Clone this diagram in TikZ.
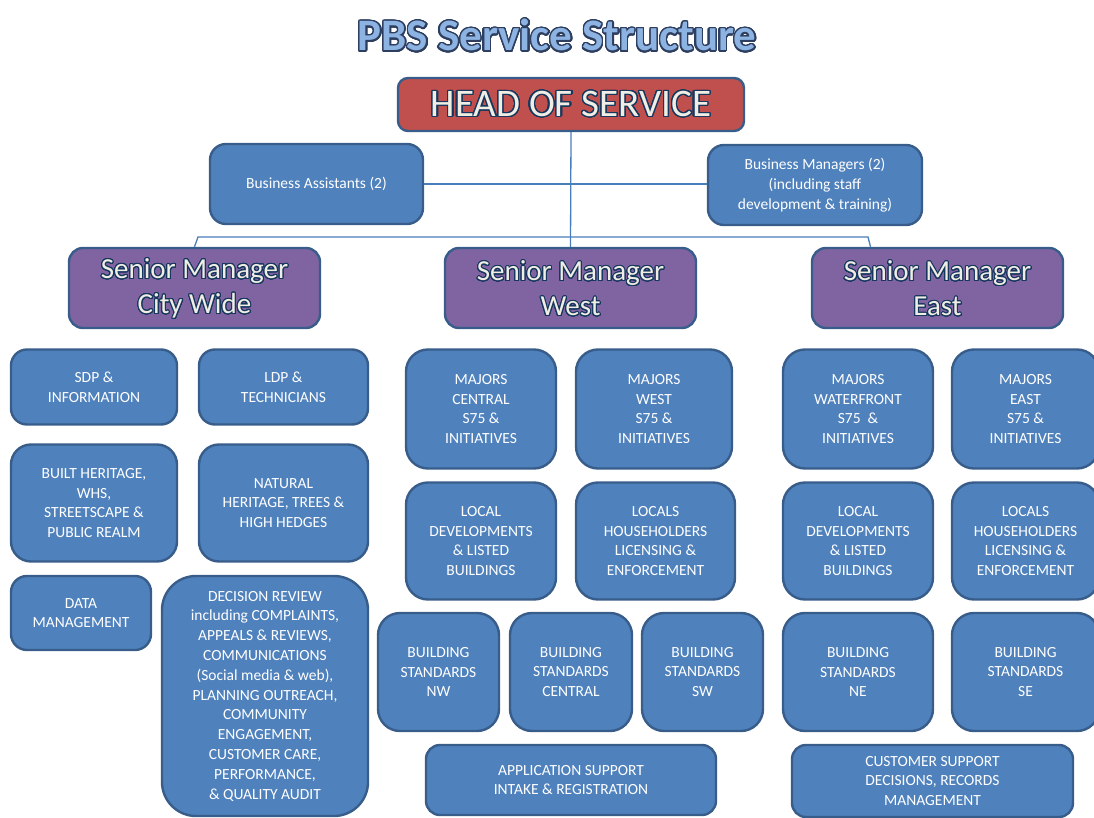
\documentclass[tikz,border=0pt]{standalone}
\usepackage{fontspec}
\setmainfont{Carlito}
\usepackage{contour}
\contournumber{32}
\definecolor{boxblue}{RGB}{79,129,189}
\definecolor{boxedge}{RGB}{56,93,138}
\definecolor{headred}{RGB}{192,80,77}
\definecolor{mgrpurple}{RGB}{128,100,162}
\definecolor{linkblue}{RGB}{74,126,187}
\definecolor{titlefill}{RGB}{141,179,226}
\definecolor{titleedge}{RGB}{45,62,95}
\definecolor{headtext}{RGB}{240,238,228}
\definecolor{headedge}{RGB}{23,55,94}

\begin{document}
\begin{tikzpicture}[x=1pt, y=-1pt,
  wh/.style 2 args={minimum width=#1, minimum height=#2},
  unit/.style={draw=boxedge, line width=2.4pt, fill=boxblue, rounded corners=16pt,
    text=white, align=center, inner sep=2pt, font=\fontsize{15.5}{19.8}\selectfont},
  manager/.style={draw=boxedge, line width=2.4pt, fill=mgrpurple, rounded corners=14pt,
    text=headtext, align=center, font=\fontsize{29}{35}\selectfont},
  link/.style={draw=linkblue, line width=1.3pt}]
\useasboundingbox (0,0) rectangle (1094,818);

% Title
\contourlength{1.4pt}
\node[text=titlefill, inner sep=0pt, font=\bfseries\fontsize{45}{50}\selectfont] (title) at (557,36)
  {\contour{titleedge}{PBS Service Structure}};

% Head
\node[draw=boxedge, line width=2.4pt, fill=headred, rounded corners=10pt, wh={346}{53},
  text=headtext, font=\fontsize{39}{44}\selectfont] (head) at (571,104.5)
  {\contourlength{1.2pt}\contour{headedge}{HEAD OF SERVICE}};

% Support
\node[unit, wh={213}{80}] (bassist) at (316.5,184) {Business Assistants (2)};
\node[unit, wh={214}{80}] (bmanager) at (815,185)
  {Business Managers (2)\\(including staff\\development \& training)};

% Senior managers
\contourlength{1pt}
\node[manager, wh={251}{80}] (smcity) at (194.5,288)
  {\contour{headedge}{\rule{0pt}{22pt}Senior Manager}\\\contour{headedge}{City Wide}};
\node[manager, wh={251}{80}] (smwest) at (570.5,288)
  {\contour{headedge}{\rule{0pt}{22pt}Senior Manager}\\\contour{headedge}{West}};
\node[manager, wh={251}{80}] (smeast) at (937.5,288)
  {\contour{headedge}{\rule{0pt}{22pt}Senior Manager}\\\contour{headedge}{East}};

% City wide teams
\node[unit, wh={166}{75}] (sdp) at (94,387) {SDP \&\\INFORMATION};
\node[unit, wh={169}{75}] (ldp) at (283.5,387) {LDP \&\\TECHNICIANS};
\node[unit, wh={166}{117}, rounded corners=20pt] (built) at (94,503)
  {BUILT HERITAGE,\\WHS,\\STREETSCAPE \&\\PUBLIC REALM};
\node[unit, wh={169}{117}, rounded corners=20pt] (natural) at (283.5,503)
  {NATURAL\\HERITAGE, TREES \&\\HIGH HEDGES};
\node[unit, wh={140}{74}] (datamgmt) at (81,613) {DATA\\MANAGEMENT};
\node[unit, wh={206}{240}, rounded corners=34pt] (review) at (265,696)
  {DECISION REVIEW\\including COMPLAINTS,\\APPEALS \& REVIEWS,\\COMMUNICATIONS\\(Social media \& web),\\PLANNING OUTREACH,\\COMMUNITY\\ENGAGEMENT,\\CUSTOMER CARE,\\PERFORMANCE,\\\& QUALITY AUDIT};

% West teams
\node[unit, wh={150}{119}, rounded corners=22pt] (majcentral) at (481,409)
  {MAJORS\\CENTRAL\\S75 \&\\INITIATIVES};
\node[unit, wh={156}{119}, rounded corners=22pt] (majwest) at (654,409)
  {MAJORS\\WEST\\S75 \&\\INITIATIVES};
\node[unit, wh={150}{117}, rounded corners=22pt] (locwest) at (481,541)
  {LOCAL\\DEVELOPMENTS\\\& LISTED\\BUILDINGS};
\node[unit, wh={159}{117}, rounded corners=22pt] (hhwest) at (655.5,541)
  {LOCALS\\HOUSEHOLDERS\\LICENSING \&\\ENFORCEMENT};
\node[unit, wh={121}{118}, rounded corners=22pt] (bsnw) at (438.5,672)
  {BUILDING\\STANDARDS\\NW};
\node[unit, wh={122}{118}, rounded corners=22pt] (bscentral) at (571,672)
  {BUILDING\\STANDARDS\\CENTRAL};
\node[unit, wh={121}{118}, rounded corners=22pt] (bssw) at (702.5,672)
  {BUILDING\\STANDARDS\\SW};
\node[unit, wh={290}{70}, rounded corners=14pt] (appsupport) at (571,780)
  {APPLICATION SUPPORT\\INTAKE \& REGISTRATION};

% East teams
\node[unit, wh={150}{119}, rounded corners=22pt] (majfront) at (858,409)
  {MAJORS\\WATERFRONT\\S75~ \&\\INITIATIVES};
\node[unit, wh={147}{119}, rounded corners=22pt] (majeast) at (1025.5,409)
  {MAJORS\\EAST\\S75 \&\\INITIATIVES};
\node[unit, wh={150}{117}, rounded corners=22pt] (loceast) at (858,541)
  {LOCAL\\DEVELOPMENTS\\\& LISTED\\BUILDINGS};
\node[unit, wh={147}{117}, rounded corners=22pt] (hheast) at (1025.5,541)
  {LOCALS\\HOUSEHOLDERS\\LICENSING \&\\ENFORCEMENT};
\node[unit, wh={150}{118}, rounded corners=22pt] (bsne) at (858,672)
  {BUILDING\\STANDARDS\\NE};
\node[unit, wh={147}{118}, rounded corners=22pt] (bsse) at (1025.5,672)
  {BUILDING\\STANDARDS\\SE};
\node[unit, wh={281}{72}, rounded corners=14pt] (custsupport) at (932.5,781)
  {CUSTOMER SUPPORT\\DECISIONS, RECORDS\\MANAGEMENT};

% Connectors
\coordinate (busleft) at (198,237);
\coordinate (busright) at (868,237);
\draw[link] (head.south) -- (smwest.north);
\draw[link] (bassist.east) -- (bmanager.west |- bassist.east);
\draw[link] (smcity.north) -- (busleft) -- (busright) -- ([xshift=-67pt]smeast.north);
\end{tikzpicture}
\end{document}
